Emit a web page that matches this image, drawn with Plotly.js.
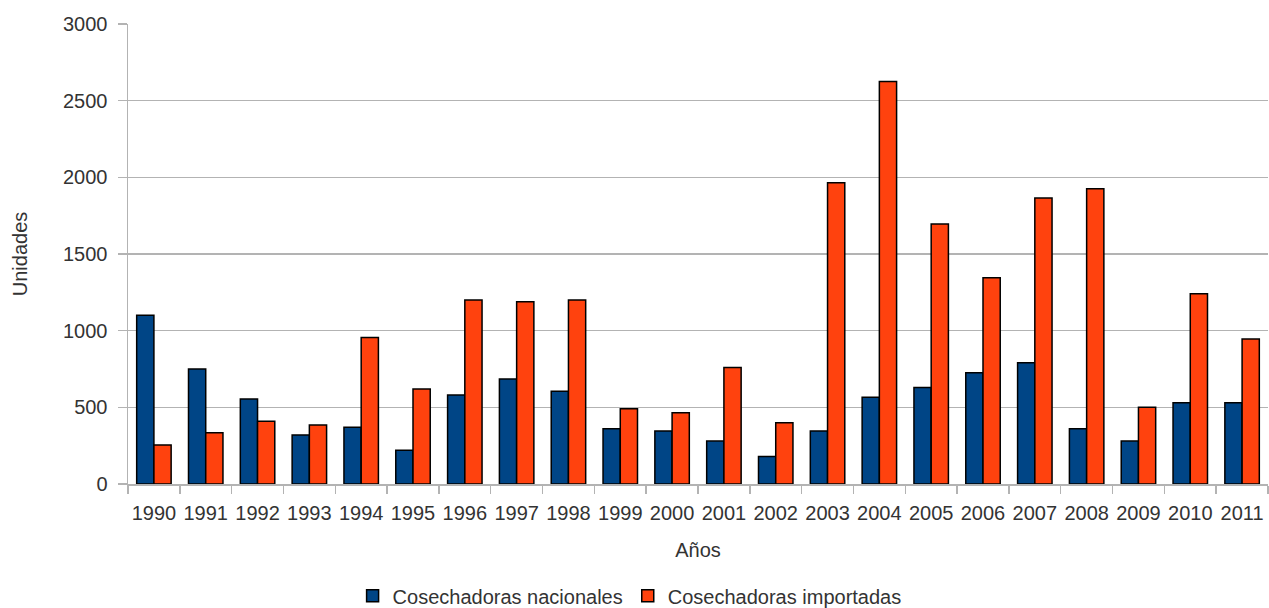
<!DOCTYPE html>
<html>
<head>
<meta charset="utf-8">
<script src="https://cdn.plot.ly/plotly-3.0.1.min.js"></script>
<style>html,body{margin:0;padding:0;background:#fff;}#chart{width:1269px;height:608px;}</style>
</head>
<body>
<div id="chart"></div>
<script>
const years = ["1990","1991","1992","1993","1994","1995","1996","1997","1998","1999","2000","2001","2002","2003","2004","2005","2006","2007","2008","2009","2010","2011"];
const nacionales = [1100,750,555,320,370,220,580,685,605,360,345,280,180,345,565,630,725,790,360,280,530,530];
const importadas = [255,335,410,385,955,620,1200,1188,1200,490,465,760,400,1965,2625,1695,1345,1865,1925,500,1240,945];
const yTicks = [0,500,1000,1500,2000,2500,3000];

const font = {family: '"Liberation Sans", Arial, sans-serif', size: 20, color: '#333333'};

const traces = [
  {type:'bar', name:'Cosechadoras nacionales', x: years, y: nacionales,
   marker:{color:'#004586', line:{color:'#000000', width:1.5}}},
  {type:'bar', name:'Cosechadoras importadas', x: years, y: importadas,
   marker:{color:'#ff420e', line:{color:'#000000', width:1.5}}}
];

const layout = {
  width:1269, height:608,
  margin:{l:128, r:1, t:24, b:124, autoexpand:false},
  paper_bgcolor:'#ffffff', plot_bgcolor:'#ffffff',
  font: font,
  barmode:'group', bargap:0.335, bargroupgap:0,
  showlegend:true,
  legend:{orientation:'h', x:0.44, xanchor:'center', y:-0.243, yanchor:'middle', font:font, itemwidth:30, tracegroupgap:0},
  xaxis:{type:'category', tickson:'boundaries', ticks:'outside', ticklen:8, tickcolor:'#b3b3b3', tickwidth:1.5,
         tickangle:0, automargin:false, ticklabelstandoff:10,
         showline:true, linecolor:'#b3b3b3', linewidth:1.5, showgrid:false, tickfont:font,
         title:{text:'Años', font:font, standoff:20}},
  yaxis:{range:[0,3000], tickvals:yTicks, ticktext:yTicks.map(String), ticks:'outside', ticklen:9, tickcolor:'#b3b3b3', tickwidth:1.5,
         showline:true, linecolor:'#b3b3b3', linewidth:1.5, showgrid:true, gridcolor:'#b3b3b3', gridwidth:1.5,
         zeroline:false, tickfont:font, ticklabelstandoff:6, automargin:false,
         title:{text:'Unidades', font:font, standoff:30}}
};

Plotly.newPlot('chart', traces, layout, {displayModeBar:false, staticPlot:true});
</script>
</body>
</html>
